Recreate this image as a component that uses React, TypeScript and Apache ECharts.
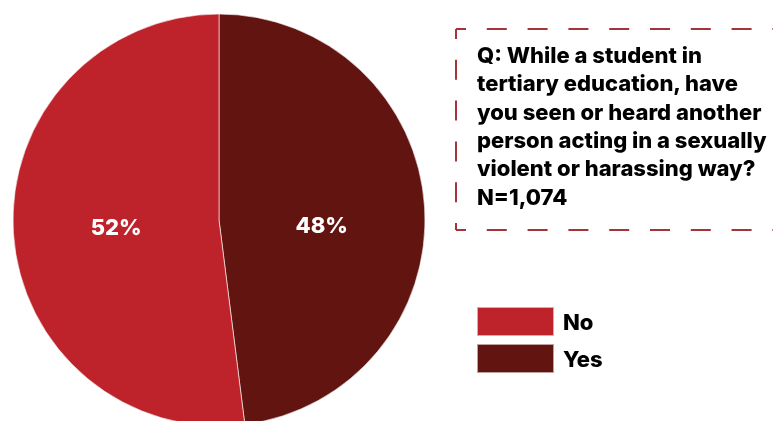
import React, { useEffect, useRef } from "react";
import * as echarts from "echarts";

const categories = ["Yes", "No"];
const values = [48, 52];
const colors = ["#621510", "#BE222A"];
const legendOrder = ["No", "Yes"];
const questionLines = [
  "Q: While a student in",
  "tertiary education, have",
  "you seen or heard another",
  "person acting in a sexually",
  "violent or harassing way?",
  "N=1,074",
];

const FONT = "Inter, 'Noto Sans', sans-serif";

export default function App() {
  const ref = useRef<HTMLDivElement>(null);
  useEffect(() => {
    if (!ref.current) return;
    const chart = echarts.init(ref.current, null, { renderer: "svg" });
    const dashColor = "#A5333A";
    const dashStyle = { stroke: dashColor, lineWidth: 2, lineDash: [20, 20.8], lineDashOffset: 10, fill: null };
    chart.setOption({
      animation: false,
      legend: {
        orient: "vertical",
        left: 476,
        top: 306,
        padding: 0,
        data: legendOrder,
        icon: "rect",
        itemWidth: 77,
        itemHeight: 29,
        itemGap: 6,
        selectedMode: false,
        textStyle: { fontFamily: FONT, fontWeight: 800, fontSize: 22, lineHeight: 29, color: "#000", padding: [0, 0, 0, 4] },
      },
      graphic: [
        { type: "line", shape: { x1: 456, y1: 29, x2: 800, y2: 29 }, style: dashStyle, silent: true },
        { type: "line", shape: { x1: 456, y1: 230, x2: 800, y2: 230 }, style: dashStyle, silent: true },
        { type: "line", shape: { x1: 456, y1: 29, x2: 456, y2: 230 }, style: dashStyle, silent: true },
        {
          type: "text",
          left: 477,
          top: 41,
          style: {
            text: questionLines.join("\n"),
            fontFamily: FONT,
            fontWeight: 800,
            fontSize: 22,
            lineHeight: 28.3,
            fill: "#000",
          },
        },
      ],
      series: [
        {
          type: "pie",
          center: [219, 220],
          radius: 206,
          startAngle: 90,
          clockwise: true,
          silent: true,
          itemStyle: { borderColor: "rgba(255,255,255,0.6)", borderWidth: 1 },
          label: {
            show: true,
            position: "inside",
            formatter: "{c}%",
            color: "#fff",
            fontFamily: FONT,
            fontWeight: 800,
            fontSize: 22,
          },
          labelLine: { show: false },
          data: categories.map((c, i) => ({
            name: c,
            value: values[i],
            itemStyle: { color: colors[i] },
            label: { offset: c === "Yes" ? [-3, 12] : [3, 0] },
          })),
        },
      ],
    });
    return () => chart.dispose();
  }, []);
  return <div ref={ref} style={{ position: "fixed", left: 0, top: 0, width: 773, height: 421 }} />;
}
